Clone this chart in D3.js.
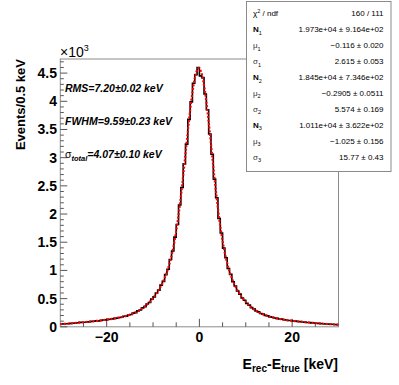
<!DOCTYPE html>
<html><head><meta charset="utf-8">
<script src="https://cdn.jsdelivr.net/npm/d3@7/dist/d3.min.js"></script>
<style>body{margin:0;background:#fff}svg{display:block}text{font-family:"Liberation Sans",Arial,Helvetica,sans-serif}</style>
</head><body>
<svg id="c" width="399" height="385"></svg>
<script>
// ---------- data ----------
const binLow = -30;
const binWidth = 0.5;
const counts = [
  52,50,55,53,60,62,66,72,78,82,80,85,88,96,98,106,104,113,120,123,
  131,133,140,150,153,166,170,186,190,210,218,242,252,282,298,335,358,405,432,490,
  530,600,650,740,805,925,1020,1195,1345,1590,1815,2160,2470,2890,3240,3680,3990,4320,4470,4600,
  4450,4420,4130,3850,3420,3060,2620,2290,1920,1665,1395,1225,1035,930,800,725,635,580,510,470,
  415,385,340,318,280,265,236,224,202,193,176,170,155,150,138,136,124,121,113,112,
  103,101,93,92,85,83,77,75,70,68,62,61,56,55,50,49,45,44,40,39
];
const fitN = [19730, 18450, 10110];
const fitMu = [-0.116, -0.2905, -1.025];
const fitSigma = [2.615, 5.574, 15.77];
const xDomain = [-30, 30];
const yDomain = [0, 4750];
const xMajorTicks = [-20, 0, 20];
const xTickLabels = ["\u221220", "0", "20"];
const yMajorTicks = [0, 500, 1000, 1500, 2000, 2500, 3000, 3500, 4000, 4500];
const yTickLabels = ["0", "0.5", "1", "1.5", "2", "2.5", "3", "3.5", "4", "4.5"];
const statSymbols = ["\u03c7", "N", "\u03bc", "\u03c3", "N", "\u03bc", "\u03c3", "N", "\u03bc", "\u03c3"];
const statIndices = ["2", "1", "1", "1", "2", "2", "2", "3", "3", "3"];
const statValues = ["160 / 111", "1.973e+04 \u00b1 9.164e+02", "\u22120.116 \u00b1 0.020", "2.615 \u00b1 0.053",
  "1.845e+04 \u00b1 7.346e+02", "\u22120.2905 \u00b1 0.0511", "5.574 \u00b1 0.169",
  "1.011e+04 \u00b1 3.622e+02", "\u22121.025 \u00b1 0.156", "15.77 \u00b1 0.43"];
const annotations = [
  {main: "RMS=7.20\u00b10.02 keV", sub: null},
  {main: "FWHM=9.59\u00b10.23 keV", sub: null},
  {main: "\u03c3", sub: "total", rest: "=4.07\u00b10.10 keV"}
];

// ---------- layout ----------
const svg = d3.select("#c");
const L = 60.3, R = 338.5, T = 59, B = 326.8;
const x = d3.scaleLinear().domain(xDomain).range([L, R]);
const y = d3.scaleLinear().domain(yDomain).range([B, T]);

svg.append("defs").append("clipPath").attr("id", "clip")
  .append("rect").attr("x", L).attr("y", T).attr("width", R - L).attr("height", B - T);

// frame
svg.append("rect").attr("x", L).attr("y", T).attr("width", R - L).attr("height", B - T)
  .attr("fill", "none").attr("stroke", "#8a8a8a").attr("stroke-width", 1);

// x ticks
const axCol = "#555";
const xMinor = d3.range(-25, 30, 5);
svg.append("g").selectAll("line").data(xMinor).join("line")
  .attr("x1", d => x(d)).attr("x2", d => x(d))
  .attr("y1", B).attr("y2", d => xMajorTicks.includes(d) ? B - 8 : B - 4.5)
  .attr("stroke", axCol).attr("stroke-width", 1);
svg.append("g").selectAll("text").data(xMajorTicks).join("text")
  .attr("x", d => x(d)).attr("y", 342)
  .attr("text-anchor", "middle").attr("font-size", 14).attr("font-weight", "bold")
  .text((d, i) => xTickLabels[i]);

// y ticks
const yMinor = d3.range(0, 4750, 100);
svg.append("g").selectAll("line").data(yMinor).join("line")
  .attr("x1", L).attr("x2", d => (d % 500 === 0) ? L + 7 : L + 3.5)
  .attr("y1", d => y(d)).attr("y2", d => y(d))
  .attr("stroke", axCol).attr("stroke-width", 1);
svg.append("g").selectAll("text").data(yMajorTicks).join("text")
  .attr("x", 57).attr("y", d => y(d) + 5)
  .attr("text-anchor", "end").attr("font-size", 14).attr("font-weight", "bold")
  .text((d, i) => yTickLabels[i]);

// x10^3
const mult = svg.append("text").attr("x", 60).attr("y", 57).attr("font-size", 14);
mult.append("tspan").text("\u00d710");
mult.append("tspan").attr("font-size", 9).attr("dy", -6).text("3");

// axis titles
const yt = svg.append("text").attr("transform", "translate(25,59) rotate(-90)")
  .attr("text-anchor", "end").attr("font-size", 13).attr("font-weight", "bold")
  .text("Events/0.5 keV");
const xt = svg.append("text").attr("x", 338).attr("y", 369)
  .attr("text-anchor", "end").attr("font-size", 14).attr("font-weight", "bold");
xt.append("tspan").text("E");
xt.append("tspan").attr("font-size", 10).attr("dy", 3).text("rec");
xt.append("tspan").attr("dy", -3).text("-E");
xt.append("tspan").attr("font-size", 10).attr("dy", 3).text("true");
xt.append("tspan").attr("dy", -3).text(" [keV]");

// histogram
const hist = counts.map((c, i) => ({x0: binLow + i * binWidth, x1: binLow + (i + 1) * binWidth, c}));
let hp = "";
hist.forEach((b, i) => {
  hp += (i === 0 ? "M" : "L") + x(b.x0) + "," + y(b.c) + "L" + x(b.x1) + "," + y(b.c);
});
svg.append("path").attr("d", hp).attr("fill", "none").attr("stroke", "#000")
  .attr("stroke-width", 1.6).attr("clip-path", "url(#clip)");

// fit curve (triple gaussian with the displayed parameters)
function fitF(v) {
  let s = 0;
  for (let k = 0; k < fitN.length; k++) {
    s += fitN[k] / (Math.sqrt(2 * Math.PI) * fitSigma[k]) * Math.exp(-((v - fitMu[k]) ** 2) / (2 * fitSigma[k] ** 2));
  }
  return s;
}
const fx = d3.range(0, 401).map(i => xDomain[0] + i * (xDomain[1] - xDomain[0]) / 400);
svg.append("path").datum(fx)
  .attr("d", d3.line().x(v => x(v)).y(v => y(fitF(v))))
  .attr("fill", "none").attr("stroke", "#ff0000").attr("stroke-width", 2.2)
  .attr("stroke-dasharray", "2,1.6").attr("clip-path", "url(#clip)");

// annotations
const annY = [92, 125, 158];
annotations.forEach((a, i) => {
  const t = svg.append("text").attr("x", 65).attr("y", annY[i])
    .attr("font-size", 10.5).attr("font-style", "italic").attr("font-weight", "bold");
  if (a.sub) {
    t.append("tspan").attr("font-style", "normal").attr("font-weight", "normal").text(a.main);
    t.append("tspan").attr("font-size", 7.5).attr("dy", 3).text(a.sub);
    t.append("tspan").attr("dy", -3).text(a.rest);
  } else {
    t.text(a.main);
  }
});

// stats box
const sb = {x: 246.5, y: 1.5, w: 144.5, h: 170};
svg.append("rect").attr("x", sb.x).attr("y", sb.y).attr("width", sb.w).attr("height", sb.h)
  .attr("fill", "#fff").attr("stroke", "#8a8a8a").attr("stroke-width", 1);
const rowH = 15.93;
statSymbols.forEach((s, i) => {
  const yy = 16.3 + i * rowH;
  const t = svg.append("text").attr("x", 253).attr("y", yy).attr("font-size", 8);
  if (i === 0) {
    t.append("tspan").text(s);
    t.append("tspan").attr("font-size", 5.5).attr("dy", -3.5).text(statIndices[i]);
    t.append("tspan").attr("dy", 3.5).text(" / ndf");
  } else {
    t.append("tspan").attr("font-weight", s === "N" ? "bold" : "normal")
      .attr("fill", s === "N" ? "#000" : "#333").text(s);
    t.append("tspan").attr("font-size", 5.5).attr("dy", 2.5).text(statIndices[i]);
  }
  svg.append("text").attr("x", 383.5).attr("y", yy).attr("font-size", 8)
    .attr("text-anchor", "end").text(statValues[i]);
});
</script>
</body></html>
